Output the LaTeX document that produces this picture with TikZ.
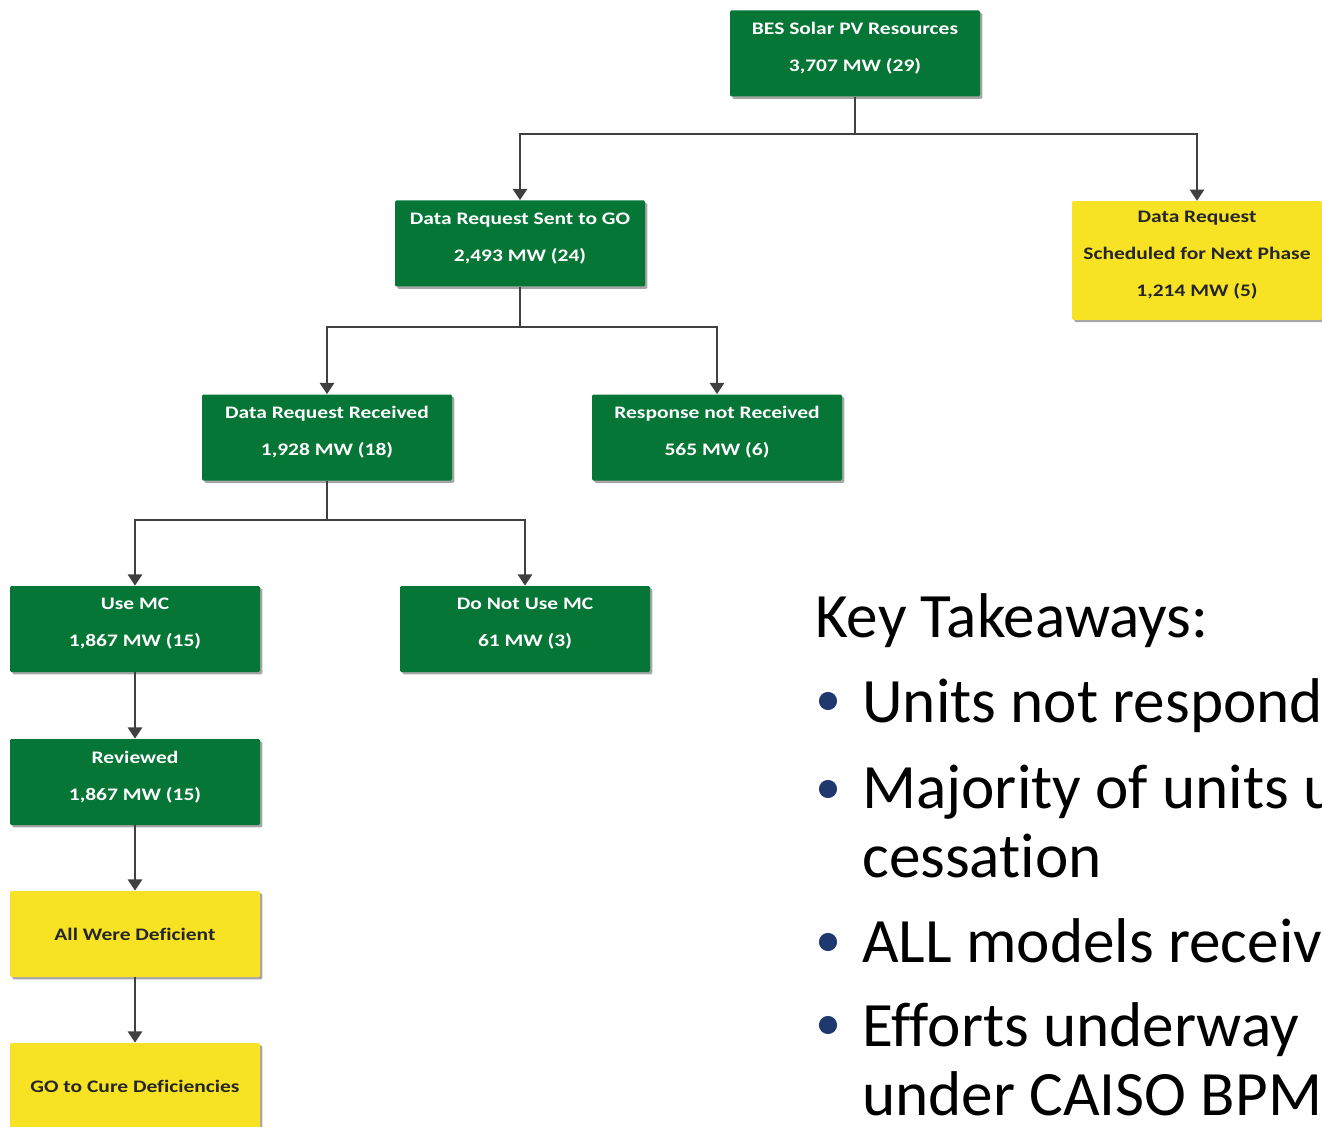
\documentclass[tikz,border=0pt]{standalone}
\usepackage{fontspec}
\setmainfont[Ligatures=NoCommon]{Carlito}
\newfontfamily\boxfont[FakeStretch=1.22,Ligatures=NoCommon]{Carlito}
\usetikzlibrary{arrows.meta,shadows}

\definecolor{bxgreen}{RGB}{6,118,54}
\definecolor{bxyellow}{RGB}{247,227,36}
\definecolor{linkgray}{RGB}{64,64,64}
\definecolor{bulletblue}{RGB}{31,56,110}
\newcommand{\lowstrut}{\rule[-10pt]{0pt}{1pt}}

\begin{document}
\begin{tikzpicture}[x=0.75pt, y=-0.75pt,
  box/.style={rectangle, rounded corners=1pt, minimum width=187.5pt, minimum height=64.5pt,
    inner sep=0pt, align=center, font=\boxfont\bfseries\fontsize{13.2}{27.75}\selectfont,
    drop shadow={shadow xshift=1.8pt, shadow yshift=-1.8pt, fill=black, opacity=0.35}},
  lifted/.style={execute at end node=\lowstrut},
  greenbox/.style={box, lifted, fill=bxgreen, text=white},
  yellowbox/.style={box, fill=bxyellow, text=black!85},
  stem/.style={draw=linkgray, line width=2.2pt},
  link/.style={stem, -{Triangle[width=10.5pt,length=8.5pt]}},
  takeaway/.style={anchor=base west, inner sep=0pt, font=\fontsize{47.4}{56}\selectfont}]
  \useasboundingbox (0,0) rectangle (1322,1127);
  \clip (0,0) rectangle (1322,1127);

  %% --- boxes ---
  \node[greenbox] (top) at (855,53.5) {BES Solar PV Resources\\3,707 MW (29)};
  \node[greenbox] (drs) at (520,243.5) {Data Request Sent to GO\\2,493 MW (24)};
  \node[yellowbox, lifted, minimum height=89pt] (nxt) at (1197,260.5)
    {Data Request\\Scheduled for Next Phase\\1,214 MW (5)};
  \node[greenbox] (drr) at (327,437.5) {Data Request Received\\1,928 MW (18)};
  \node[greenbox] (rnr) at (717,437.5) {Response not Received\\565 MW (6)};
  \node[greenbox] (use) at (135,629) {Use MC\\1,867 MW (15)};
  \node[greenbox] (dnu) at (525,629) {Do Not Use MC\\61 MW (3)};
  \node[greenbox] (rev) at (135,782) {Reviewed\\1,867 MW (15)};
  \node[yellowbox] (def) at (135,934) {All Were Deficient};
  \node[yellowbox] (cure) at (135,1086) {GO to Cure Deficiencies};

  %% --- connectors ---
  \coordinate (j1) at (855,134);
  \coordinate (j2) at (520,327);
  \coordinate (j3) at (327,520);
  \draw[stem] (top.south) -- (j1);
  \draw[link] (j1) -| (drs.north);
  \draw[link] (j1) -| (nxt.north);
  \draw[stem] (drs.south) -- (j2);
  \draw[link] (j2) -| (drr.north);
  \draw[link] (j2) -| (rnr.north);
  \draw[stem] (drr.south) -- (j3);
  \draw[link] (j3) -| (use.north);
  \draw[link] (j3) -| (dnu.north);
  \draw[link] (use) -- (rev);
  \draw[link] (rev) -- (def);
  \draw[link] (def) -- (cure);

  %% --- key takeaways ---
  \node[takeaway] (key) at (815,637) {Key Takeaways:};
  \foreach \yb in {701,789,942,1025} {
    \fill[bulletblue] (828,\yb) circle (6.8pt);
  }
  \node[takeaway] (tk1) at (862,722) {Units not respond};
  \node[takeaway] (tk2) at (862,808) {Majority of units u};
  \node[takeaway] (tk2b) at (862,877) {cessation};
  \node[takeaway] (tk3) at (862,962) {ALL models receiv};
  \node[takeaway] (tk4) at (862,1046) {Efforts underway};
  \node[takeaway] (tk4b) at (862,1115) {under CAISO BPM};
\end{tikzpicture}
\end{document}
